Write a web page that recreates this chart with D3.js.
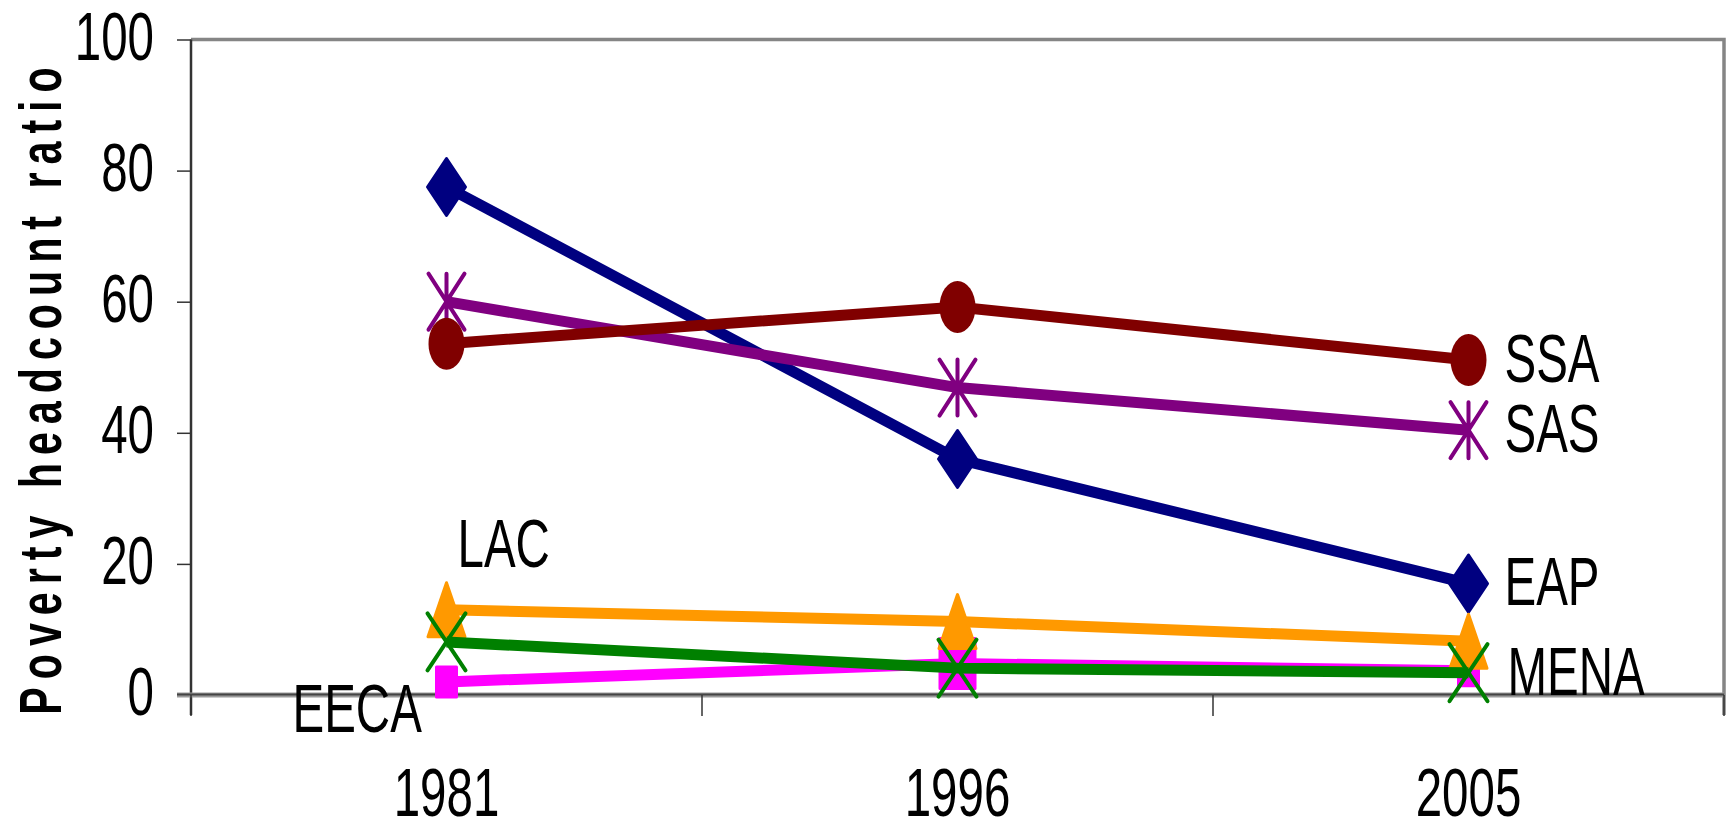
<!DOCTYPE html>
<html lang="en">
<head>
<meta charset="utf-8">
<title>Poverty headcount ratio</title>
<script src="https://cdnjs.cloudflare.com/ajax/libs/d3/7.8.5/d3.min.js"></script>
<style>
  body { margin: 0; background: #fff; }
  text { font-family: "Liberation Sans", Arial, sans-serif; fill: #000; }
</style>
</head>
<body>
<script>
// data
var years = ["1981", "1996", "2005"];
var yTicks = [0, 20, 40, 60, 80, 100];
var EAP  = [77.5, 36.0, 17.0];
var EECA = [2.0, 4.8, 3.7];
var LAC  = [13.0, 11.2, 8.2];
var MENA = [8.1, 4.1, 3.4];
var SAS  = [60.0, 46.9, 40.4];
var SSA  = [53.6, 59.2, 51.1];

// series in drawing order (first one sits at the bottom)
var series = [
  {name: "EAP",  values: EAP,  color: "#000080", marker: "diamond"},
  {name: "EECA", values: EECA, color: "#ff00ff", marker: "square"},
  {name: "LAC",  values: LAC,  color: "#ff9900", marker: "triangle"},
  {name: "MENA", values: MENA, color: "#008000", marker: "cross"},
  {name: "SAS",  values: SAS,  color: "#800080", marker: "star"},
  {name: "SSA",  values: SSA,  color: "#800000", marker: "circle"}
];

var W = 1731, H = 822;
var plot = {left: 191, right: 1724, top: 39.5, bottom: 695};
var SY = 1.45;   // the text is tall and narrow in the original

var svg = d3.select("body").append("svg")
    .attr("width", W)
    .attr("height", H);

var x = d3.scalePoint().domain(years).range([plot.left, plot.right]).padding(0.5);
var band = d3.scaleBand().domain(years).range([plot.left, plot.right]);
var y = d3.scaleLinear().domain([0, 100]).range([plot.bottom, plot.top]);

function label(g, txt, px, py, anchor) {
  return g.append("text")
      .attr("transform", "translate(" + px + "," + py + ") scale(1," + SY + ")")
      .attr("text-anchor", anchor || "start")
      .style("font-size", "47.5px")
      .text(txt);
}

// plot frame: top and right in grey
svg.append("path")
    .attr("d", "M" + plot.left + "," + y(100) + "H" + plot.right + "V" + (plot.bottom + 20))
    .attr("fill", "none")
    .attr("stroke", "#858585")
    .attr("stroke-width", 3.5);

// y axis
var yAxis = svg.append("g")
    .attr("transform", "translate(" + plot.left + ",0)")
    .call(d3.axisLeft(y).tickValues(yTicks).tickSize(14).tickSizeOuter(0));
yAxis.select(".domain").attr("stroke", "#333").attr("stroke-width", 2.5)
    .attr("d", "M0," + y(100) + "V" + (plot.bottom + 20));
yAxis.selectAll(".tick line").attr("stroke", "#333").attr("stroke-width", 1.5);
yAxis.selectAll(".tick text").remove();
yTicks.forEach(function(t) {
  label(svg, t, plot.left - 37, y(t) + 20, "end");
});

// x axis: line at zero plus ticks on the category boundaries
svg.append("line")
    .attr("x1", plot.left - 14).attr("x2", plot.right)
    .attr("y1", y(0)).attr("y2", y(0))
    .attr("stroke", "#9a9a9a").attr("stroke-width", 5);
svg.append("line")
    .attr("x1", plot.left - 14).attr("x2", plot.right)
    .attr("y1", y(0) - 0.5).attr("y2", y(0) - 0.5)
    .attr("stroke", "#444").attr("stroke-width", 2);
var bounds = years.map(function(d) { return band(d); }).concat([plot.right]);
svg.selectAll(".xtick").data(bounds).enter().append("line")
    .attr("class", "xtick")
    .attr("x1", function(d) { return d; }).attr("x2", function(d) { return d; })
    .attr("y1", y(0)).attr("y2", y(0) + 21)
    .attr("stroke", "#333").attr("stroke-width", 1.5);
years.forEach(function(yr) {
  label(svg, yr, x(yr), 816, "middle");
});

// y axis title: narrow bold letters, widely spaced
svg.append("text")
    .attr("transform", "translate(61,391) rotate(-90) scale(0.7,1)")
    .attr("text-anchor", "middle")
    .attr("textLength", 925)
    .attr("lengthAdjust", "spacing")
    .style("font-size", "59px")
    .style("font-weight", "bold")
    .text("Poverty headcount ratio");

// markers
function markerPath(type, w, h) {
  var a = w / 2, b = h / 2;
  if (type === "diamond") return "M0," + (-b) + "L" + a + ",0L0," + b + "L" + (-a) + ",0Z";
  if (type === "triangle") return "M0," + (-b) + "L" + a + "," + b + "L" + (-a) + "," + b + "Z";
  if (type === "square") return "M" + (-a) + "," + (-b) + "H" + a + "V" + b + "H" + (-a) + "Z";
  if (type === "cross") return "M" + (-a) + "," + (-b) + "L" + a + "," + b + "M" + a + "," + (-b) + "L" + (-a) + "," + b;
  if (type === "star") return "M0," + (-b) + "V" + b + "M" + (-a) + "," + (-b) + "L" + a + "," + b + "M" + a + "," + (-b) + "L" + (-a) + "," + b;
  return "";
}
var markerSize = {
  diamond: [38, 57], triangle: [37, 54], square: [20, 30],
  cross: [38, 57], star: [36, 56], circle: [36, 52]
};

var line = d3.line()
    .x(function(d, i) { return x(years[i]); })
    .y(function(d) { return y(d); });

series.forEach(function(s) {
  var g = svg.append("g");
  g.append("path")
      .attr("d", line(s.values))
      .attr("fill", "none")
      .attr("stroke", s.color)
      .attr("stroke-width", 11);

  g.selectAll(".pt").data(s.values).enter().each(function(v, i) {
    var sz = markerSize[s.marker];
    if (s.marker === "square" && i === 1) sz = [35, 50];
    var cx = x(years[i]), cy = y(v);
    if (s.marker === "circle") {
      d3.select(this).append("ellipse")
          .attr("cx", cx).attr("cy", cy)
          .attr("rx", sz[0] / 2).attr("ry", sz[1] / 2)
          .attr("fill", s.color);
    } else {
      var open = s.marker === "cross" || s.marker === "star";
      d3.select(this).append("path")
          .attr("transform", "translate(" + cx + "," + cy + ")")
          .attr("d", markerPath(s.marker, sz[0], sz[1]))
          .attr("fill", open ? "none" : s.color)
          .attr("stroke", s.color)
          .attr("stroke-width", open ? 4 : 3)
          .attr("stroke-linejoin", "round")
          .attr("stroke-linecap", "round");
    }
  });
});

// series names written next to the lines
var last = years[2];
label(svg, "SSA", x(last) + 36, y(SSA[2]) + 22);
label(svg, "SAS", x(last) + 36, y(SAS[2]) + 22);
label(svg, "EAP", x(last) + 36, y(EAP[2]) + 21);
label(svg, "MENA", x(last) + 39, y(0));
label(svg, "LAC", x(years[0]) + 11, y(0) - 128);
label(svg, "EECA", x(years[0]) - 154, y(0) + 37);
</script>
</body>
</html>
